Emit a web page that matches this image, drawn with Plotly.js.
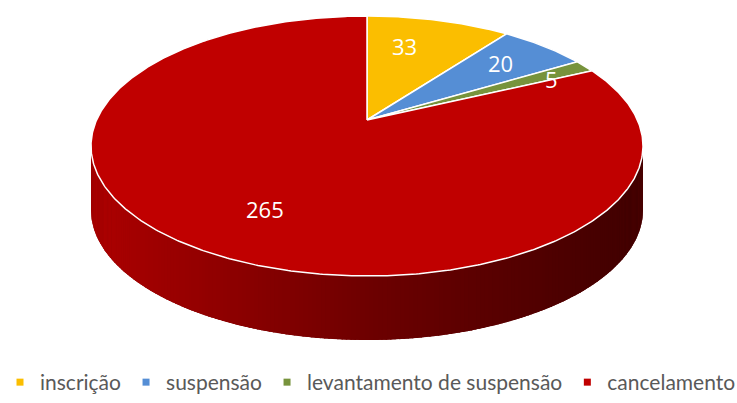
<!DOCTYPE html>
<html>
<head>
<meta charset="utf-8">
<script src="https://cdn.plot.ly/plotly-3.0.1.min.js"></script>
<style>html,body{margin:0;padding:0;background:#fff;}#chart{width:737px;height:403px;}</style>
</head>
<body>
<div id="chart"></div>
<script>
// ---- data ----
const categories = ['inscrição', 'suspensão', 'levantamento de suspensão', 'cancelamento'];
const values = [33, 20, 5, 265];
const colors = ['#FBBE00', '#558ED5', '#77933C', '#C00000'];
const labelTexts = values.map(String);

// ---- geometry (styling) ----
const W = 737, H = 403;
const CX = 367, CY = 146, RX = 276, RY = 130, DEPTH = 64, T = 0.2;

function proj(thetaDeg, r) {
  const a = thetaDeg * Math.PI / 180;
  const px = r * Math.sin(a), py = r * Math.cos(a);
  const d = 1 + T * py, k = Math.sqrt(1 - T * T);
  const u = px * k / d, v = (py + T) / d;
  return [CX + RX * u, CY - RY * v, v];
}
function hexToRgb(h) {
  return [parseInt(h.slice(1, 3), 16), parseInt(h.slice(3, 5), 16), parseInt(h.slice(5, 7), 16)];
}
function shade(hex, x) {
  const u = (x - CX) / RX;
  const f = u < 0 ? 0.57 - 0.33 * u : 0.57 - 0.24 * u;
  const c = hexToRgb(hex).map(v => Math.round(v * f));
  return 'rgb(' + c.join(',') + ')';
}

const total = values.reduce((a, b) => a + b, 0);
const traces = [];
const angles = [];
let acc = 0;
values.forEach(v => { const s = acc / total * 360; acc += v; angles.push([s, acc / total * 360]); });

// side walls (front part only), drawn as gradient strips over a base wall
values.forEach((v, i) => {
  const [a0, a1] = angles[i];
  const pts = [];
  const n = Math.max(2, Math.ceil((a1 - a0) * 4));
  for (let j = 0; j <= n; j++) {
    const p = proj(a0 + (a1 - a0) * j / n, 1);
    if (p[2] <= 0.002) pts.push(p);
  }
  if (pts.length < 2) return;
  const baseCol = shade(colors[i], CX);
  traces.push({
    type: 'scatter', mode: 'lines',
    x: pts.map(p => p[0]).concat(pts.slice().reverse().map(p => p[0])),
    y: pts.map(p => p[1]).concat(pts.slice().reverse().map(p => p[1] + DEPTH)),
    fill: 'toself', fillcolor: baseCol, line: {width: 0}, hoverinfo: 'skip', showlegend: false
  });
  const step = 3;
  for (let j = 0; j + 1 < pts.length; j += step) {
    const seg = pts.slice(j, Math.min(j + step + 2, pts.length));
    if (seg.length < 2) continue;
    const xs = seg.map(p => p[0]).concat(seg.slice().reverse().map(p => p[0]));
    const ys = seg.map(p => p[1]).concat(seg.slice().reverse().map(p => p[1] + DEPTH));
    const mx = (seg[0][0] + seg[seg.length - 1][0]) / 2;
    const col = shade(colors[i], mx);
    traces.push({
      type: 'scatter', mode: 'lines', x: xs, y: ys, fill: 'toself',
      fillcolor: col, line: {width: 0}, hoverinfo: 'skip', showlegend: false
    });
  }
});

// top faces
values.forEach((v, i) => {
  const [a0, a1] = angles[i];
  const c = proj(0, 0);
  const xs = [c[0]], ys = [c[1]];
  const n = Math.max(2, Math.ceil((a1 - a0) * 2));
  for (let j = 0; j <= n; j++) {
    const p = proj(a0 + (a1 - a0) * j / n, 1);
    xs.push(p[0]); ys.push(p[1]);
  }
  xs.push(c[0]); ys.push(c[1]);
  traces.push({
    type: 'scatter', mode: 'lines', x: xs, y: ys, fill: 'toself',
    fillcolor: colors[i], line: {color: '#ffffff', width: 1.5},
    name: categories[i], hoverinfo: 'skip', showlegend: false
  });
});

// legend entries
categories.forEach((c, i) => {
  traces.push({
    type: 'scatter', mode: 'markers', x: [null], y: [null], name: c,
    marker: {symbol: 'square', size: 7, color: colors[i]}, showlegend: true
  });
});

// data labels
const labelPos = [[404, 46], [500, 63], [551, 79], [265, 209]];
const annotations = labelTexts.map((t, i) => ({
  x: labelPos[i][0], y: labelPos[i][1], xref: 'x', yref: 'y', text: t, showarrow: false,
  font: {family: 'Open Sans, sans-serif', size: 22, color: '#ffffff'}, xanchor: 'center', yanchor: 'middle'
}));

const layout = {
  width: W, height: H,
  margin: {l: 0, r: 0, t: 0, b: 0},
  paper_bgcolor: '#ffffff', plot_bgcolor: '#ffffff',
  xaxis: {range: [0, W], visible: false, fixedrange: true},
  yaxis: {range: [H, 0], visible: false, fixedrange: true},
  showlegend: true,
  legend: {
    orientation: 'h', x: 0, xanchor: 'left', y: 0, yanchor: 'bottom',
    font: {family: 'Lato, sans-serif', size: 21, color: '#595959'},
    bgcolor: 'rgba(0,0,0,0)', itemclick: false, itemdoubleclick: false
  },
  annotations: annotations
};

Plotly.newPlot('chart', traces, layout, {displayModeBar: false, staticPlot: true});
</script>
</body>
</html>
